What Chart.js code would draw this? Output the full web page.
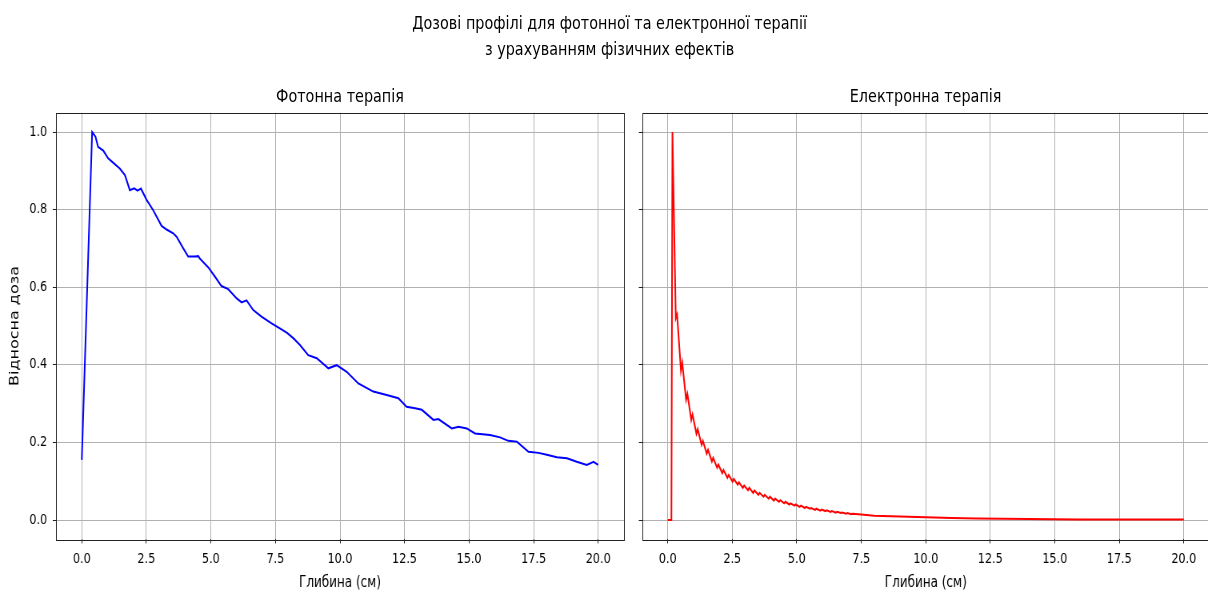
<!DOCTYPE html>
<html>
<head>
<meta charset="utf-8">
<script src="https://cdn.jsdelivr.net/npm/chart.js@4.4.1/dist/chart.umd.min.js"></script>
<style>
    body { margin: 0; overflow: hidden; background: #fff; }
    #fig { position: absolute; left: 0; top: 0; width: 1520px; height: 592px; transform: scaleX(0.8); transform-origin: 0 0; }
    #fig canvas { position: absolute; top: 0; }
    .txt { position: absolute; text-align: center; font-family: 'DejaVu Sans', sans-serif; color: #000; white-space: nowrap; }
</style>
</head>
<body>
<div id="fig">
    <div class="txt" style="left:462px; width:600px; top:10px; font-size:18px; line-height:26px;">Дозові профілі для фотонної та електронної терапії<br>з урахуванням фізичних ефектів</div>
    <div class="txt" style="left:125px; width:600px; top:85px; font-size:18px; line-height:22px;">Фотонна терапія</div>
    <div class="txt" style="left:857px; width:600px; top:85px; font-size:18px; line-height:22px;">Електронна терапія</div>
    <canvas id="photonChart" width="790" height="592" style="left:0px"></canvas>
    <canvas id="electronChart" width="730" height="592" style="left:790px"></canvas>
</div>
<script>
// глибина (см) та відносна доза
var photonX = [0, 0.40, 0.53, 0.63, 0.83, 1.02, 1.21, 1.47, 1.67, 1.86, 2.03, 2.16, 2.29, 2.51, 2.76, 3.09, 3.30, 3.54, 3.67, 3.93,
    4.12, 4.38, 4.51, 4.57, 4.90, 5.16, 5.41, 5.67, 6.00, 6.19, 6.38, 6.64, 6.96, 7.35, 7.67, 7.95, 8.20, 8.45, 8.77, 9.10,
    9.55, 9.87, 10.26, 10.71, 11.29, 11.81, 12.26, 12.58, 12.91, 13.17, 13.62, 13.81, 14.33, 14.59, 14.91, 15.23, 15.81, 16.20, 16.52, 16.85,
    17.30, 17.69, 18.01, 18.40, 18.79, 19.17, 19.56, 19.82, 20.00];
var photonY = [0.155, 1.0, 0.988, 0.962, 0.952, 0.932, 0.921, 0.906, 0.889, 0.850, 0.855, 0.849, 0.854, 0.825, 0.799, 0.758, 0.748, 0.739, 0.730, 0.700,
    0.679, 0.679, 0.680, 0.674, 0.651, 0.627, 0.603, 0.595, 0.571, 0.561, 0.566, 0.541, 0.524, 0.507, 0.494, 0.482, 0.468, 0.451, 0.425, 0.417,
    0.391, 0.399, 0.382, 0.352, 0.331, 0.322, 0.314, 0.292, 0.288, 0.284, 0.258, 0.260, 0.236, 0.240, 0.236, 0.223, 0.219, 0.213, 0.204, 0.202,
    0.176, 0.173, 0.168, 0.162, 0.159, 0.150, 0.142, 0.150, 0.142];

var electronX = [0, 0.05, 0.1, 0.14, 0.18, 0.31, 0.36, 0.51, 0.56, 0.71, 0.76, 0.91, 0.96, 1.11, 1.16, 1.31, 1.36, 1.51, 1.56, 1.71,
    1.76, 1.91, 1.96, 2.11, 2.16, 2.31, 2.36, 2.51, 2.56, 2.71, 2.76, 2.91, 2.96, 3.11, 3.16, 3.31, 3.36, 3.51, 3.56, 3.71,
    3.76, 3.91, 3.96, 4.11, 4.16, 4.31, 4.36, 4.51, 4.56, 4.71, 4.76, 4.91, 4.96, 5.11, 5.16, 5.31, 5.36, 5.51, 5.56, 5.71,
    5.76, 5.91, 5.96, 6.11, 6.16, 6.31, 6.36, 6.51, 6.56, 6.71, 6.76, 6.91, 6.96, 7.11, 7.16, 7.5, 8, 9, 10, 11,
    12, 13, 14, 15, 16, 17, 18, 19, 20];
var electronY = [0, 0, 0, 0, 1.0, 0.52, 0.53, 0.385, 0.405, 0.31, 0.325, 0.258, 0.272, 0.222, 0.234, 0.194, 0.204, 0.171, 0.181, 0.151,
    0.160, 0.135, 0.143, 0.121, 0.129, 0.109, 0.116, 0.099, 0.106, 0.091, 0.097, 0.083, 0.089, 0.077, 0.083, 0.070, 0.076, 0.065, 0.070, 0.060,
    0.065, 0.055, 0.060, 0.050, 0.055, 0.047, 0.051, 0.043, 0.047, 0.040, 0.043, 0.037, 0.040, 0.034, 0.037, 0.031, 0.034, 0.029, 0.031, 0.026,
    0.029, 0.024, 0.027, 0.023, 0.025, 0.021, 0.023, 0.019, 0.021, 0.018, 0.019, 0.016, 0.018, 0.015, 0.016, 0.014, 0.011, 0.009, 0.007, 0.005,
    0.004, 0.003, 0.0025, 0.002, 0.0015, 0.001, 0.001, 0.001, 0.001];

var xTicks = [0, 2.5, 5, 7.5, 10, 12.5, 15, 17.5, 20];
var yTicks = [0, 0.2, 0.4, 0.6, 0.8, 1.0];

function toPoints(xs, ys) {
    return xs.map(function(x, i) { return { x: x, y: ys[i] }; });
}

// рамка навколо області графіка, як у matplotlib
var frame = {
    id: 'frame',
    afterDraw: function(chart) {
        var a = chart.chartArea, ctx = chart.ctx;
        ctx.save();
        ctx.strokeStyle = '#222';
        ctx.lineWidth = 1;
        ctx.strokeRect(Math.round(a.left) + 0.5, Math.round(a.top) + 0.5, Math.round(a.right - a.left), Math.round(a.bottom - a.top));
        ctx.restore();
    }
};

function makeOptions(yWidth, showYLabels, padRight) {
    return {
        responsive: false,
        animation: false,
        layout: { padding: { left: 0, right: padRight, top: 112.6, bottom: 0 } },
        plugins: { legend: { display: false }, tooltip: { enabled: false } },
        scales: {
            x: {
                type: 'linear',
                min: -1,
                max: 21,
                afterBuildTicks: function(scale) { scale.ticks = xTicks.map(function(v) { return { value: v }; }); },
                afterFit: function(scale) { scale.height = 52.6; },
                border: { display: false },
                grid: { color: '#b0b0b0', lineWidth: 1, tickColor: '#222', tickLength: 4 },
                ticks: {
                    color: '#000', padding: 8,
                    font: { family: 'DejaVu Sans', size: 14 },
                    callback: function(v) { return v.toFixed(1); }
                },
                title: {
                    display: true, text: 'Глибина (см)', color: '#000',
                    font: { family: 'DejaVu Sans', size: 15 },
                    padding: { top: 4, bottom: 0 }
                }
            },
            y: {
                min: -0.05,
                max: 1.05,
                afterBuildTicks: function(scale) { scale.ticks = yTicks.map(function(v) { return { value: v }; }); },
                afterFit: function(scale) { scale.width = yWidth; },
                border: { display: false },
                grid: { color: '#b0b0b0', lineWidth: 1, tickColor: '#222', tickLength: 4 },
                ticks: {
                    display: showYLabels,
                    color: '#000', padding: 7,
                    font: { family: 'DejaVu Sans', size: 14 },
                    callback: function(v) { return v.toFixed(1); }
                },
                title: {
                    display: showYLabels, text: 'Відносна доза', color: '#000',
                    font: { family: 'DejaVu Sans', size: 16 },
                    padding: { top: 9, bottom: 4 }
                }
            }
        }
    };
}

// Фотонна терапія
var ctxPhoton = document.getElementById('photonChart').getContext('2d');
var photonChart = new Chart(ctxPhoton, {
    type: 'line',
    data: {
        datasets: [{
            data: toPoints(photonX, photonY),
            borderColor: '#0000ff',
            borderWidth: 2,
            pointRadius: 0,
            fill: false,
            tension: 0
        }]
    },
    options: makeOptions(70, true, 10),
    plugins: [frame]
});

// Електронна терапія
var ctxElectron = document.getElementById('electronChart').getContext('2d');
var electronChart = new Chart(ctxElectron, {
    type: 'line',
    data: {
        datasets: [{
            data: toPoints(electronX, electronY),
            borderColor: '#ff0000',
            borderWidth: 2,
            pointRadius: 0,
            fill: false,
            tension: 0
        }]
    },
    options: makeOptions(12.5, false, 8),
    plugins: [frame]
});
</script>
</body>
</html>
